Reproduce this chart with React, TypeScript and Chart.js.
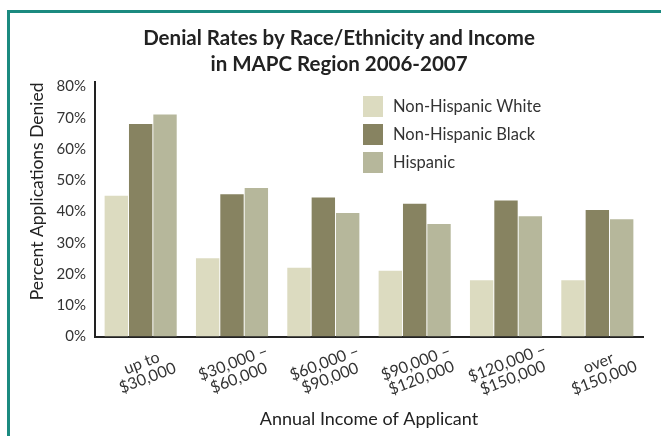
import React, { useEffect, useRef } from "react";
import { Chart, registerables } from "chart.js";

Chart.register(...registerables);

const titleLines = ["Denial Rates by Race/Ethnicity and Income", "in MAPC Region 2006-2007"];
const categories: string[][] = [
  ["up to", "$30,000"],
  ["$30,000 –", "$60,000"],
  ["$60,000 –", "$90,000"],
  ["$90,000 –", "$120,000"],
  ["$120,000 –", "$150,000"],
  ["over", "$150,000"],
];
const seriesNames = ["Non-Hispanic White", "Non-Hispanic Black", "Hispanic"];
const whiteValues = [45, 25, 22, 21, 18, 18];
const blackValues = [68, 45.5, 44.5, 42.5, 43.5, 40.5];
const hispanicValues = [71, 47.5, 39.5, 36, 38.5, 37.5];
const seriesColors = ["#dcdbc0", "#878361", "#b6b79b"];
const yTicks = [0, 10, 20, 30, 40, 50, 60, 70, 80];
const yAxisTitle = "Percent Applications Denied";
const xAxisTitle = "Annual Income of Applicant";

const FONT = "Lato, 'Open Sans', sans-serif";

const xLabelPlugin = {
  id: "xLabels",
  afterDraw(chart: any) {
    const ctx = chart.ctx;
    const xs = chart.scales.x;
    ctx.save();
    ctx.font = `16px ${FONT}`;
    ctx.fillStyle = "#333";
    ctx.textAlign = "center";
    ctx.textBaseline = "middle";
    const lh = 16;
    categories.forEach((lines, i) => {
      const cx = xs.getPixelForValue(i) + 4;
      const cy = chart.chartArea.bottom + 34;
      ctx.save();
      ctx.translate(cx, cy);
      ctx.rotate((-21 * Math.PI) / 180);
      lines.forEach((ln, j) => {
        ctx.fillText(ln, 0, (j - (lines.length - 1) / 2) * lh);
      });
      ctx.restore();
    });
    ctx.restore();
  },
};

const legendPlugin = {
  id: "customLegend",
  afterDraw(chart: any) {
    const ctx = chart.ctx;
    const area = chart.chartArea;
    ctx.save();
    ctx.font = `16.5px ${FONT}`;
    ctx.textBaseline = "middle";
    ctx.textAlign = "left";
    chart.data.datasets.forEach((ds: any, i: number) => {
      const x = area.left + 268;
      const y = area.top + 13.6 + i * 28;
      ctx.fillStyle = ds.backgroundColor;
      ctx.fillRect(x, y, 20, 21);
      ctx.fillStyle = "#333";
      ctx.fillText(ds.label, x + 30, y + 10.5);
    });
    ctx.restore();
  },
};

export default function App() {
  const ref = useRef<HTMLCanvasElement>(null);
  useEffect(() => {
    document.body.style.margin = "0";
    const chart = new Chart(ref.current as HTMLCanvasElement, {
      type: "bar",
      data: {
        labels: categories.map((c) => c.join(" ")),
        datasets: [
          { label: seriesNames[0], data: whiteValues, backgroundColor: seriesColors[0] },
          { label: seriesNames[1], data: blackValues, backgroundColor: seriesColors[1] },
          { label: seriesNames[2], data: hispanicValues, backgroundColor: seriesColors[2] },
        ],
      },
      options: {
        responsive: false,
        animation: false,
        devicePixelRatio: 1,
        layout: { padding: { top: 0, left: 35, right: 18, bottom: 0 } },
        datasets: { bar: { categoryPercentage: 0.8, barPercentage: 0.96 } },
        font: { family: FONT },
        plugins: {
          legend: { display: false },
          tooltip: { enabled: false },
          title: {
            display: true,
            text: titleLines,
            color: "#222",
            font: { family: FONT, size: 20.5, weight: "bold", lineHeight: 26 / 20.5 },
            padding: { top: 25, bottom: 5.4 },
          },
        },
        scales: {
          x: {
            grid: { display: false, drawTicks: false },
            ticks: { display: false },
            border: { display: true, color: "#222", width: 2 },
            title: {
              display: true,
              text: xAxisTitle,
              color: "#222",
              font: { family: FONT, size: 18 },
              padding: { top: 0, bottom: 6 },
            },
            afterFit: (s: any) => {
              s.height = 99.5;
            },
          },
          y: {
            min: 0,
            max: 81.3,
            grid: { display: false, drawTicks: false },
            border: { display: true, color: "#222", width: 2 },
            afterBuildTicks: (s: any) => {
              s.ticks = yTicks.map((v) => ({ value: v }));
            },
            ticks: {
              color: "#333",
              padding: 9,
              font: { family: FONT, size: 15 },
              callback: (v: any) => v + "%",
            },
            title: {
              display: true,
              text: yAxisTitle,
              align: "end",
              color: "#222",
              font: { family: FONT, size: 17.5 },
              padding: { top: -8, bottom: 0 },
            },
            afterFit: (s: any) => {
              s.width = 60;
            },
          },
        },
      } as any,
      plugins: [xLabelPlugin, legendPlugin],
    });
    return () => chart.destroy();
  }, []);
  return (
    <div style={{ position: "fixed", left: 0, top: 0, width: 661, height: 436, overflow: "hidden", background: "#fff" }}>
      <canvas ref={ref} width={661} height={436} style={{ position: "absolute", left: 0, top: 0 }} />
      <div
        style={{
          position: "absolute",
          left: 7,
          top: 10,
          width: 800,
          height: 600,
          borderTop: "3px solid #1b8a80",
          borderLeft: "3px solid #1b8a80",
          pointerEvents: "none",
        }}
      />
    </div>
  );
}
